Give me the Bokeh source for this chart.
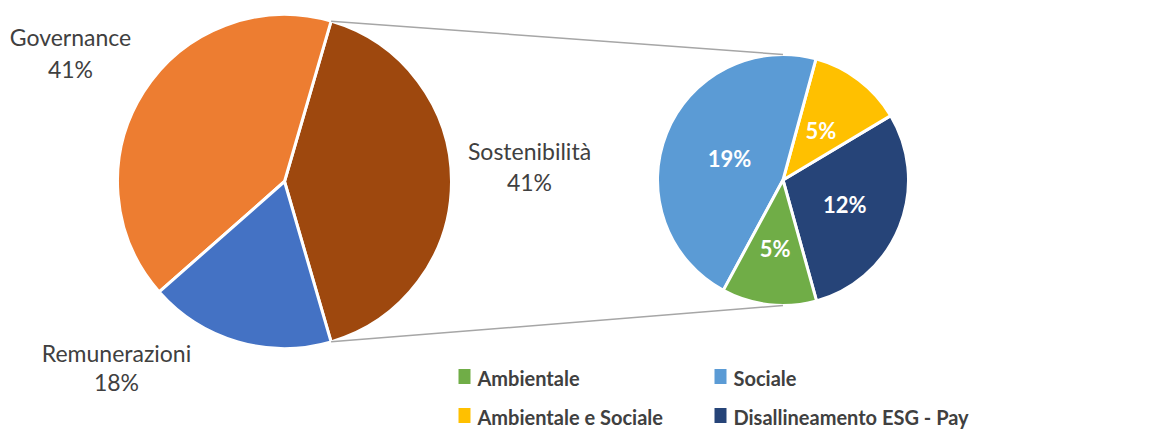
import numpy as np
from bokeh.plotting import figure
from bokeh.models import Range1d, ColumnDataSource
from bokeh.core.properties import value
from bokeh.embed import file_html
from bokeh.resources import INLINE

# ---- data ----
main_labels = ["Sostenibilità", "Governance", "Remunerazioni"]
main_values = [41, 41, 18]
main_colors = ["#9E480E", "#ED7D31", "#4472C4"]

sub_labels = ["Disallineamento ESG - Pay", "Ambientale e Sociale", "Sociale", "Ambientale"]
sub_values = [12, 5, 19, 5]
sub_colors = ["#264478", "#FFC000", "#5B9BD5", "#70AD47"]

legend_labels = ["Ambientale", "Sociale", "Ambientale e Sociale", "Disallineamento ESG - Pay"]
legend_colors = ["#70AD47", "#5B9BD5", "#FFC000", "#264478"]

# ---- layout (screen px -> data, y flipped) ----
W, H = 1146, 429


def Y(sy):
    return H - sy


p = figure(width=W, height=H, x_range=Range1d(0, W), y_range=Range1d(0, H),
           output_backend="svg", toolbar_location=None, min_border=0,
           x_axis_type=None, y_axis_type=None)
p.grid.visible = False
p.outline_line_color = None
p.background_fill_color = "white"
p.border_fill_color = "white"

# main pie
c1x, c1y, r1 = 284, Y(181), 167
tot1 = sum(main_values)
ang = np.array(main_values) / tot1 * 2 * np.pi
start0 = -ang[0] / 2
ends = start0 + np.cumsum(ang)
starts = np.concatenate([[start0], ends[:-1]])
src1 = ColumnDataSource(dict(start=starts, end=ends, color=main_colors, label=main_labels))
p.wedge(x=c1x, y=c1y, radius=r1, start_angle="start", end_angle="end", direction="anticlock",
        fill_color="color", line_color="white", line_width=3, source=src1)

# sub pie
c2x, c2y, r2 = 782.5, Y(179.5), 125.5
tot2 = sum(sub_values)
ang2 = np.array(sub_values) / tot2 * 2 * np.pi
s0 = np.deg2rad(-74.5)
ends2 = s0 + np.cumsum(ang2)
starts2 = np.concatenate([[s0], ends2[:-1]])
src2 = ColumnDataSource(dict(start=starts2, end=ends2, color=sub_colors, label=sub_labels))
p.wedge(x=c2x, y=c2y, radius=r2, start_angle="start", end_angle="end", direction="anticlock",
        fill_color="color", line_color="white", line_width=3, source=src2)

# connector lines
half = ang[0] / 2
tx, ty = c1x + r1 * np.cos(half), c1y + r1 * np.sin(half)
bx, by = c1x + r1 * np.cos(-half), c1y + r1 * np.sin(-half)
p.segment(x0=[tx, bx], y0=[ty, by], x1=[c2x, c2x], y1=[c2y + r2, c2y - r2],
          line_color="#A6A6A6", line_width=1.5)

# outer labels for main pie
pct_main = [f"{v / tot1 * 100:.0f}%" for v in main_values]
lab_x = [529, 70, 116]
lab_y1 = [Y(150), Y(36), Y(352)]
lab_y2 = [Y(181), Y(68), Y(381)]
p.text(x=lab_x, y=lab_y1, text=main_labels, text_font=value("Lato"), text_font_size="23px",
       text_color="#404040", text_align="center", text_baseline="middle")
p.text(x=lab_x, y=lab_y2, text=pct_main, text_font=value("Lato"), text_font_size="23px",
       text_color="#404040", text_align="center", text_baseline="middle")

# inner labels for sub pie
pct_sub = [f"{v / tot1 * 100:.0f}%" for v in sub_values]
mid2 = (starts2 + ends2) / 2
rf = [0.53, 0.5, 0.46, 0.55]
ix = [c2x + r2 * f * np.cos(m) for f, m in zip(rf, mid2)]
iy = [c2y + r2 * f * np.sin(m) for f, m in zip(rf, mid2)]
p.text(x=ix, y=iy, text=pct_sub, text_font=value("Lato"), text_font_size="22px",
       text_font_style="bold", text_color="white", text_align="center", text_baseline="middle")

# legend
col_x = [464, 720]
row_y = [Y(376), Y(415)]
lx = [col_x[i % 2] for i in range(len(legend_labels))]
ly = [row_y[i // 2] for i in range(len(legend_labels))]
p.rect(x=lx, y=ly, width=12, height=15, fill_color=legend_colors, line_color=None)
p.text(x=[x + 13 for x in lx], y=[y - 1 for y in ly], text=legend_labels, text_font=value("Lato"),
       text_font_size="20px", text_font_style="bold", text_color="#404040",
       text_align="left", text_baseline="middle")

open("out.html", "w").write(file_html(p, INLINE))
